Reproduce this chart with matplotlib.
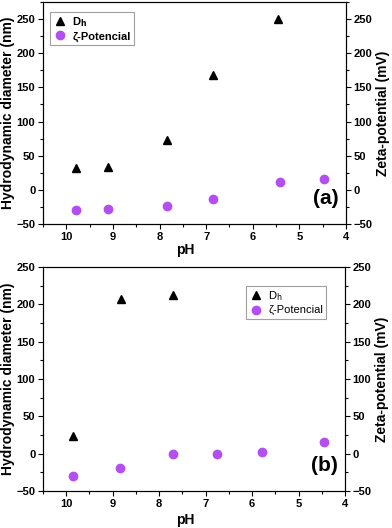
import matplotlib
matplotlib.use("Agg")
import matplotlib.pyplot as plt
from matplotlib.ticker import MultipleLocator

plt.rcParams['font.family'] = ['Liberation Sans', 'DejaVu Sans']

# Panel (a)
ph_dh_a = [9.8, 9.1, 7.85, 6.85, 5.45]
dh_a = [32, 33, 73, 168, 250]
ph_z_a = [9.8, 9.1, 7.85, 6.85, 5.42, 4.47]
z_a = [-29, -28, -24, -13, 11, 15.5]

# Panel (b)
ph_dh_b = [9.85, 8.83, 7.7]
dh_b = [23, 207, 213]
ph_z_b = [9.85, 8.85, 7.7, 6.76, 5.79, 4.45]
z_b = [-29.5, -19, -0.5, 0, 2.3, 16]

xticks = [10, 9, 8, 7, 6, 5, 4]
yticks = [-50, 0, 50, 100, 150, 200, 250]

violet = '#b34ff0'
W, H = 392, 528
fig = plt.figure(figsize=(W/100, H/100), dpi=100)

def setup(ax, ylim, label, xlab_y):
    ax.set_xlim(10.5, 4)
    ax.set_ylim(*ylim)
    ax.set_xticks(xticks)
    ax.set_yticks(yticks)
    ax.xaxis.set_minor_locator(MultipleLocator(0.5))
    ax.yaxis.set_minor_locator(MultipleLocator(25))
    ax.tick_params(which='both', direction='out', width=0.8, labelsize=8, pad=2)
    ax.tick_params(which='major', length=3.5)
    ax.tick_params(which='minor', length=2)
    for t in ax.get_xticklabels() + ax.get_yticklabels():
        t.set_fontweight('bold')
    ax.set_xlabel('pH', fontsize=10, fontweight='bold')
    ax.xaxis.set_label_coords(0.47, xlab_y)
    ax.set_ylabel('Hydrodynamic diameter (nm)', fontsize=10, fontweight='bold')
    ax.yaxis.set_label_coords(-0.092, 0.5)
    ax2 = ax.twinx()
    ax2.set_ylim(*ylim)
    ax2.set_yticks(yticks)
    ax2.yaxis.set_minor_locator(MultipleLocator(25))
    ax2.tick_params(which='both', direction='out', width=0.8, labelsize=8, pad=2)
    ax2.tick_params(which='major', length=3.5)
    ax2.tick_params(which='minor', length=2)
    for t in ax2.get_yticklabels():
        t.set_fontweight('bold')
    ax2.set_ylabel('Zeta-potential (mV)', fontsize=10, fontweight='bold')
    ax2.yaxis.set_label_coords(1.1, 0.5)
    ax.text(0.975, 0.07, label, transform=ax.transAxes, ha='right', va='bottom',
            fontsize=15, fontweight='bold')
    return ax2

ax1 = fig.add_axes([43/W, 1-224/H, 303/W, 222/H])
ax1.plot(ph_dh_a, dh_a, '^', color='black', ms=6, label=r'D$_\mathbf{h}$', linestyle='none')
ax1.plot(ph_z_a, z_a, 'o', color=violet, ms=6, label='ζ-Potencial', linestyle='none')
setup(ax1, (-50, 275), '(a)', -0.085)
leg1 = ax1.legend(loc='upper left', bbox_to_anchor=(0.023, 0.955), frameon=True, fancybox=False,
                  edgecolor='#888888', prop={'weight': 'bold', 'size': 8}, handletextpad=0.5,
                  borderpad=0.3, labelspacing=0.2, handlelength=1.2, borderaxespad=0)
leg1.get_frame().set_linewidth(0.8)

ax3 = fig.add_axes([43/W, 1-491/H, 302/W, 224/H])
ax3.plot(ph_dh_b, dh_b, '^', color='black', ms=6, label=r'D$_\mathrm{h}$', linestyle='none')
ax3.plot(ph_z_b, z_b, 'o', color=violet, ms=6, label='ζ-Potencial', linestyle='none')
setup(ax3, (-50, 250), '(b)', -0.1)
leg2 = ax3.legend(loc='upper left', bbox_to_anchor=(0.672, 0.915), frameon=True, fancybox=False,
                  edgecolor='#888888', prop={'size': 8}, handletextpad=0.5,
                  borderpad=0.3, labelspacing=0.2, handlelength=1.2, borderaxespad=0)
leg2.get_frame().set_linewidth(0.8)

fig.savefig('out.png', dpi=100)
